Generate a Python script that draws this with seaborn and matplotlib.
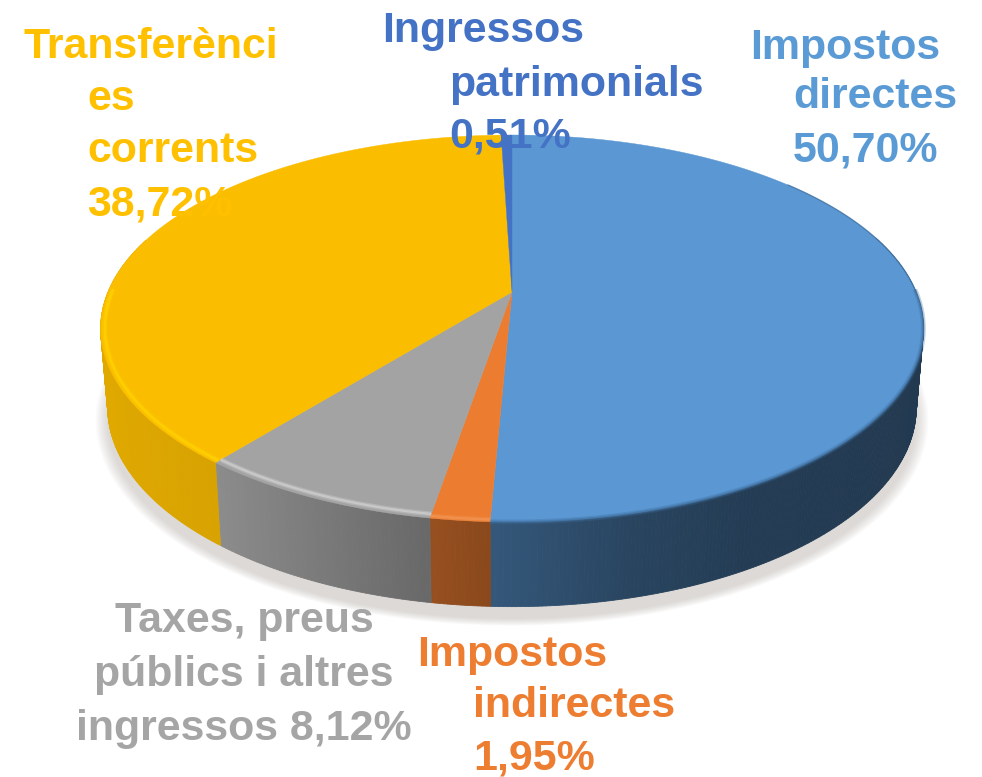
#!/usr/bin/env python3
import matplotlib as mpl
import matplotlib.pyplot as plt
from matplotlib.patches import Polygon
import numpy as np
import seaborn as sns

mpl.use("Agg")

sns.set_theme(style="white")
plt.rcParams["font.family"] = ["Liberation Sans", "DejaVu Sans"]

# slices, clockwise from 12 o'clock
categories = [
    "Impostos directes",
    "Impostos indirectes",
    "Taxes, preus públics i altres ingressos",
    "Transferències corrents",
    "Ingressos patrimonials",
]
values = [50.70, 1.95, 8.12, 38.72, 0.51]
top_colors = ["#5A97D3", "#EC7C30", "#A3A3A3", "#FBBD00", "#4472C4"]
rim_colors = ["#3F6E9C", "#F49A5A", "#DADADA", "#FFD800", "#4472C4"]
rim_radius = [1.0, 0.992, 0.985, 0.99, 1.0]
text_colors = ["#5B9BD5", "#ED7D31", "#A5A5A5", "#FFC000", "#4472C4"]

# text lines as they wrap in the picture
label_lines = [
    ["Impostos", "directes", "50,70%"],
    ["Impostos", "indirectes", "1,95%"],
    ["Taxes, preus", "públics i altres", "ingressos 8,12%"],
    ["Transferènci", "es", "corrents", "38,72%"],
    ["Ingressos", "patrimonials", "0,51%"],
]
label_x = [
    [750, 793, 793],
    [417, 473, 473],
    [115, 94, 76],
    [24, 87, 87, 87],
    [382, 449, 449],
]
label_y = [
    [59, 108, 162],
    [666, 717, 769],
    [632, 686, 740],
    [58, 110, 162, 215],
    [42, 96, 148],
]

# wall brightness from the left edge of the pie to the right edge
shade_u = [-1.0, -0.625, -0.165, -0.04, 0.25, 0.5, 1.0]
shade_f = [0.90, 0.86, 0.64, 0.58, 0.45, 0.40, 0.38]

# pie perspective, in pixels
CX = 512
TOP_Y, TOP_A, TOP_B = 292, 404, 186.6
BOT_Y, BOT_A, BOT_B = 370, 397, 192
PERSP = 0.1886


def project(theta, r=1.0, cy=TOP_Y, a=TOP_A, b=TOP_B):
    u = r * np.cos(np.radians(theta))
    v = r * np.sin(np.radians(theta))
    d = 1 + PERSP * v
    return CX + a * u / d, cy - b * v / d


fig = plt.figure(figsize=(9.82, 7.77), dpi=100)
ax = fig.add_axes([0, 0, 1, 1])
palette = sns.color_palette(top_colors)
wedges, _ = ax.pie(values, colors=palette, startangle=90, counterclock=False)
ax.set_aspect("auto")
ax.set_xlim(0, 982)
ax.set_ylim(777, 0)
ax.axis("off")

# soft shadow under the pie
circle = np.linspace(0, 360, 361)
for grow in np.linspace(1.03, 1.0, 12):
    sx, sy = project(circle, cy=BOT_Y + 12, a=BOT_A * grow, b=BOT_B * grow)
    ax.add_patch(Polygon(np.c_[sx, sy], fc="#B0A8A0", ec="none", alpha=0.04, zorder=1))

for i, w in enumerate(wedges):
    w.set_visible(False)
    th = np.linspace(w.theta1, w.theta2, max(int(w.theta2 - w.theta1) * 2, 2) + 1)
    base = np.array(mpl.colors.to_rgb(top_colors[i]))

    # side wall, split in thin strips for the shading
    for t0, t1 in zip(th[:-1], th[1:]):
        if np.sin(np.radians(t0)) > 0.3:
            continue
        tx0, ty0 = project(t0)
        tx1, ty1 = project(t1)
        bx0, by0 = project(t0, cy=BOT_Y, a=BOT_A, b=BOT_B)
        bx1, by1 = project(t1, cy=BOT_Y, a=BOT_A, b=BOT_B)
        f = np.interp(np.cos(np.radians((t0 + t1) / 2)), shade_u, shade_f)
        col = tuple(base * f)
        ax.add_patch(
            Polygon(
                [(tx0, ty0), (tx1, ty1), (bx1, by1), (bx0, by0)],
                fc=col,
                ec=col,
                lw=0.6,
                zorder=2,
            )
        )

for i, w in enumerate(wedges):
    th = np.linspace(w.theta1, w.theta2, max(int(w.theta2 - w.theta1) * 2, 2) + 1)

    # top face
    x, y = project(th)
    pts = np.r_[[[CX, TOP_Y]], np.c_[x, y]]
    ax.add_patch(Polygon(pts, fc=top_colors[i], ec=top_colors[i], lw=0.3, zorder=3))

    # soft rim between the top face and the wall
    front = th[np.sin(np.radians(th)) < 0.02]
    if len(front) > 1:
        rx, ry = project(front, r=rim_radius[i])
        ax.plot(rx, ry, color=rim_colors[i], lw=3.5, alpha=0.3, zorder=4, solid_capstyle="butt")
        ax.plot(rx, ry, color=rim_colors[i], lw=1.6, alpha=0.55, zorder=4, solid_capstyle="butt")

# thin dark edge on the far right of the blue slice
edge = np.linspace(0, 40, 41)
ex, ey = project(edge)
ax.plot(ex, ey, color="#3F6E9C", lw=1.0, alpha=0.7, zorder=4)

# labels go over the pie
for lines, xs, ys, color in zip(label_lines, label_x, label_y, text_colors):
    for line, lx, ly in zip(lines, xs, ys):
        ax.text(lx, ly, line, color=color, fontsize=30.9, fontweight="bold",
                ha="left", va="baseline", zorder=5)

fig.savefig("out.png", dpi=100)
